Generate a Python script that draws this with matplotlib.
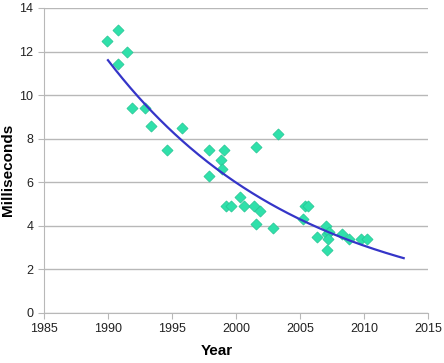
import numpy as np
import matplotlib
matplotlib.use("Agg")
import matplotlib.pyplot as plt
from matplotlib import font_manager

years = [1989.9, 1990.8, 1990.8, 1991.5, 1991.9, 1992.9, 1993.4, 1994.6, 1995.8,
         1997.9, 1997.9, 1998.8, 1999.1, 1998.9, 1999.2, 1999.6, 2000.3, 2000.6,
         2001.6, 2001.4, 2001.6, 2001.9, 2002.9, 2003.3, 2005.2, 2005.4, 2005.6,
         2006.3, 2007.0, 2007.1, 2007.3, 2007.2, 2007.1, 2008.3, 2008.8, 2009.8, 2010.2]
ms = [12.5, 13.0, 11.45, 12.0, 9.4, 9.4, 8.6, 7.5, 8.5,
      7.5, 6.3, 7.0, 7.5, 6.6, 4.9, 4.9, 5.3, 4.9,
      7.6, 4.9, 4.1, 4.7, 3.9, 8.2, 4.3, 4.9, 4.9,
      3.5, 4.0, 3.6, 3.7, 3.4, 2.9, 3.6, 3.4, 3.4, 3.4]
trend_range = [1990.0, 2013.1]

names = {f.name for f in font_manager.fontManager.ttflist}
tick_font = ['Liberation Sans Narrow', 'Liberation Sans', 'DejaVu Sans'] if 'Liberation Sans Narrow' in names else ['Liberation Sans', 'DejaVu Sans']
label_font = ['Liberation Sans', 'DejaVu Sans']

x = np.array(years)
y = np.array(ms)
b, loga = np.polyfit(x - 1990, np.log(y), 1)
tx = np.linspace(trend_range[0], trend_range[1], 200)
ty = np.exp(loga) * np.exp(b * (tx - 1990))

fig = plt.figure(figsize=(4.44, 3.63), dpi=100)
ax = fig.add_axes([0.099, 0.138, 0.865, 0.84])
ax.set_xlim(1985, 2015)
ax.set_ylim(0, 14)
ax.set_xticks(range(1985, 2016, 5))
ax.set_yticks(range(0, 15, 2))
ax.yaxis.grid(True, color='#b8b8b8', linewidth=1.0)
ax.set_axisbelow(True)
for s in ['top', 'right']:
    ax.spines[s].set_visible(False)
ax.spines['left'].set_color('#b8b8b8')
ax.spines['bottom'].set_color('#b8b8b8')
ax.tick_params(axis='both', colors='#b8b8b8', labelcolor='#222222', labelsize=9, length=4, direction='out')
for lab in ax.get_xticklabels() + ax.get_yticklabels():
    lab.set_fontfamily(tick_font)

ax.scatter(x, y, marker='D', s=32, c='#2fe0aa', edgecolors='#25c493', linewidths=0.5, zorder=3)
ax.plot(tx, ty, color='#3535c8', linewidth=1.6, zorder=4)

ax.set_xlabel('Year', fontsize=11, fontweight='bold', family=label_font)
ax.set_ylabel('Milliseconds', fontsize=11, fontweight='bold', family=label_font)
ax.xaxis.set_label_coords(0.45, -0.102)
ax.yaxis.set_label_coords(-0.076, 0.469)

fig.savefig('out.png', dpi=100)
